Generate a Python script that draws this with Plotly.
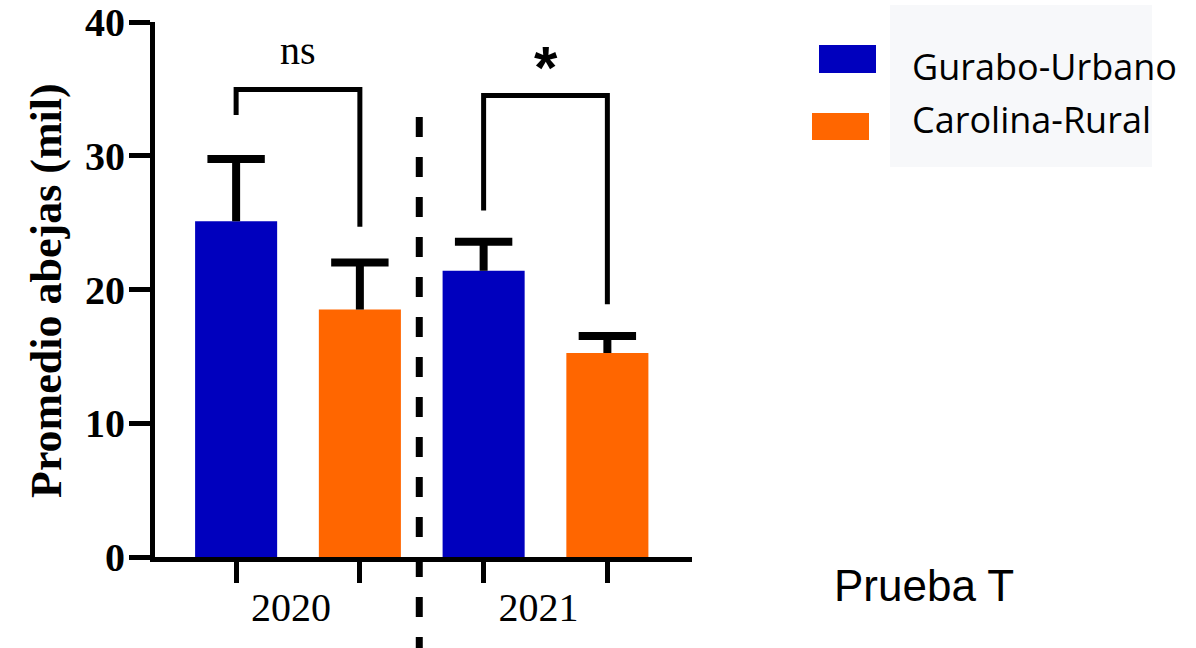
import plotly.graph_objects as go

# Mean bee counts (thousands) per year and site, with standard deviations
years = ["2020", "2021"]
gurabo_mean = [25.1, 21.4]
gurabo_sd = [4.66, 2.17]
carolina_mean = [18.5, 15.25]
carolina_sd = [3.52, 1.27]

series_names = ["Gurabo-Urbano", "Carolina-Rural"]
series_colors = ["#0000BE", "#FF6600"]

# Significance brackets: label, top level, left/right leg ends (same units as y)
sig_labels = ["ns", "*"]
bracket_top = [34.95, 34.5]
bracket_legs = [[33.05, 24.7], [25.9, 18.9]]

y_ticks = [0, 10, 20, 30, 40]

# Layout in pixels
W, H = 1196, 648
L, R, T, B = 155, 692, 22, 557


def px(x):
    return (x - L) / (R - L)


def py(y):
    return (B - y) / (B - T)


serif = "Times New Roman, Liberation Serif, serif"
xpos = list(range(len(years)))
half = 0.25  # offset of each bar from the year centre (barmode group, bargap 0)

fig = go.Figure()
groups = [
    (series_names[0], series_colors[0], gurabo_mean, gurabo_sd, -half),
    (series_names[1], series_colors[1], carolina_mean, carolina_sd, half),
]
for name, color, means, sds, off in groups:
    # bar with an upward-only error stem (caps drawn separately)
    fig.add_trace(go.Bar(
        x=xpos, y=means, name=name,
        marker=dict(color=color, line=dict(width=0)),
        error_y=dict(type="data", array=sds, arrayminus=[0] * len(sds),
                     symmetric=False, color="black", thickness=8, width=0),
        showlegend=False,
    ))
for name, color, means, sds, off in groups:
    # cap at the top of each error stem
    fig.add_trace(go.Scatter(
        x=[p + off for p in xpos], y=[m + s for m, s in zip(means, sds)],
        mode="markers", showlegend=False, hoverinfo="skip",
        marker=dict(symbol="line-ew", size=41,
                    line=dict(color="black", width=8)),
    ))

shapes = []
annotations = []

# significance brackets
for i, (lab, top, legs) in enumerate(zip(sig_labels, bracket_top, bracket_legs)):
    xl, xr = xpos[i] - half, xpos[i] + half
    shapes.append(dict(
        type="path", xref="x", yref="y",
        path=f"M {xl},{legs[0]} L {xl},{top} L {xr},{top} L {xr},{legs[1]}",
        line=dict(color="black", width=5),
    ))

annotations.append(dict(
    x=xpos[0], y=py(51), xref="x", yref="paper", text=sig_labels[0],
    showarrow=False, xanchor="center", yanchor="middle",
    font=dict(family=serif, size=40, color="black"),
))
annotations.append(dict(
    x=xpos[1], y=py(67), xref="x", yref="paper", text=sig_labels[1],
    showarrow=False, xanchor="center", yanchor="middle",
    font=dict(family="Arial, Liberation Sans, sans-serif", size=60,
              color="black", weight="bold"),
))

# dashed separator between years
shapes.append(dict(
    type="line", xref="x", yref="paper",
    x0=0.49, x1=0.49, y0=py(117), y1=py(660),
    line=dict(color="black", width=7, dash="20px,20px"),
))

# y-axis title
annotations.append(dict(
    x=px(46), y=py(291), xref="paper", yref="paper",
    text="Promedio abejas (mil)", textangle=-90, showarrow=False,
    xanchor="center", yanchor="middle",
    font=dict(family=serif, size=44, color="black", weight="bold"),
))

# legend drawn beside the chart
shapes.append(dict(
    type="rect", xref="paper", yref="paper", layer="below",
    x0=px(890), x1=px(1152), y0=py(5), y1=py(167),
    fillcolor="#F7F8FA", line=dict(width=0),
))
swatches = [(819, 876, 45, 73), (812, 869, 113, 140)]
text_y = [66, 120]
for (x0, x1, y0, y1), color, name, ty in zip(swatches, series_colors, series_names, text_y):
    shapes.append(dict(
        type="rect", xref="paper", yref="paper",
        x0=px(x0), x1=px(x1), y0=py(y0), y1=py(y1),
        fillcolor=color, line=dict(width=0),
    ))
    annotations.append(dict(
        x=px(910), y=py(ty), xref="paper", yref="paper", text=name,
        showarrow=False, xanchor="left", yanchor="middle",
        font=dict(family="Open Sans, sans-serif", size=36, color="black"),
    ))

annotations.append(dict(
    x=px(832), y=py(585), xref="paper", yref="paper", text="Prueba T",
    showarrow=False, xanchor="left", yanchor="middle",
    font=dict(family="Arial, Liberation Sans, sans-serif", size=44, color="black"),
))

fig.update_layout(
    width=W, height=H,
    margin=dict(l=L, r=W - R, t=T, b=H - B, pad=0, autoexpand=False),
    paper_bgcolor="white", plot_bgcolor="white",
    barmode="group", bargap=0, bargroupgap=0.337,
    shapes=shapes, annotations=annotations,
    showlegend=False,
)
fig.update_xaxes(
    range=[(L - 298) / 247.5, (R - 298) / 247.5],
    tickvals=xpos, ticktext=years, ticks="",
    ticklabelstandoff=11, ticklabelshift=-7, automargin=False,
    tickfont=dict(family=serif, size=40, color="black"),
    minor=dict(tickvals=[p + s for p in xpos for s in (-half, half)],
               ticks="outside", ticklen=21, tickwidth=5, tickcolor="black"),
    showline=True, linecolor="black", linewidth=5,
    showgrid=False, zeroline=False,
)
fig.update_yaxes(
    range=[0, 40], tickvals=y_ticks, automargin=False,
    ticks="outside", ticklen=21, tickwidth=5, tickcolor="black",
    ticklabelstandoff=-4,
    tickfont=dict(family=serif, size=40, color="black", weight="bold"),
    showline=True, linecolor="black", linewidth=5,
    showgrid=False, zeroline=False,
)

fig.write_html("out.html")
